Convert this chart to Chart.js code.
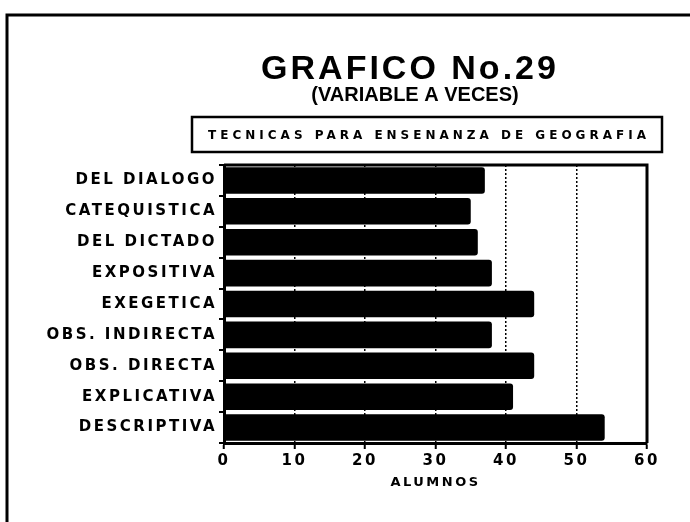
<!DOCTYPE html>
<html>
<head>
<meta charset="utf-8">
<title>Grafico No.29</title>
<script src="https://cdn.jsdelivr.net/npm/chart.js@4"></script>
<style>
  html, body { margin: 0; background: #fff; }
  #wrap { width: 690px; height: 522px; position: relative; }
</style>
</head>
<body>
<div id="wrap"><canvas id="grafico"></canvas></div>
<script>
// datos del grafico
const tecnicas = ['DEL DIALOGO', 'CATEQUISTICA', 'DEL DICTADO', 'EXPOSITIVA', 'EXEGETICA',
                  'OBS. INDIRECTA', 'OBS. DIRECTA', 'EXPLICATIVA', 'DESCRIPTIVA'];
const alumnos = [37, 35, 36, 38, 44, 38, 44, 41, 54];
const marcasX = [0, 10, 20, 30, 40, 50, 60];

const titulo = 'GRAFICO No.29';
const subtitulo = '(VARIABLE A VECES)';
const leyenda = 'TECNICAS PARA ENSENANZA DE GEOGRAFIA';
const ejeX = 'ALUMNOS';

const negrita = (size) => ({ family: 'DejaVu Sans', weight: 'bold', size: size });

// marco de la hoja, borde del area de barras y encabezados
const marco = {
  id: 'marco',
  beforeDraw(chart) {
    const { ctx } = chart;
    ctx.save();
    ctx.strokeStyle = '#000';
    ctx.lineWidth = 3;
    ctx.strokeRect(7, 15, 720, 560);
    ctx.restore();
    // letras algo separadas en los ejes
    ctx.letterSpacing = '2.5px';
  },
  afterDatasetsDraw(chart) {
    const { ctx, chartArea: a } = chart;
    ctx.save();
    ctx.strokeStyle = '#000';
    ctx.lineWidth = 3;
    ctx.beginPath();
    ctx.moveTo(a.left, a.top);
    ctx.lineTo(a.right, a.top);
    ctx.lineTo(a.right, a.bottom);
    ctx.stroke();
    ctx.restore();
  },
  afterDraw(chart) {
    const { ctx } = chart;
    ctx.save();
    ctx.fillStyle = '#000';
    ctx.strokeStyle = '#000';
    ctx.textAlign = 'center';
    ctx.textBaseline = 'alphabetic';

    ctx.letterSpacing = '3px';
    ctx.font = 'bold 34px "Liberation Sans"';
    ctx.fillText(titulo, 410, 79);

    ctx.letterSpacing = '0px';
    ctx.font = 'bold 20px "Liberation Sans"';
    ctx.fillText(subtitulo, 415, 101);

    ctx.lineWidth = 2.5;
    ctx.strokeRect(192, 117, 470, 35);
    ctx.letterSpacing = '4px';
    ctx.font = 'bold 12px "DejaVu Sans"';
    ctx.fillText(leyenda, 429, 139);
    ctx.restore();
    ctx.letterSpacing = '0px';
  }
};

new Chart(document.getElementById('grafico'), {
  type: 'bar',
  data: {
    labels: tecnicas,
    datasets: [{
      label: ejeX,
      data: alumnos,
      backgroundColor: '#000',
      barPercentage: 0.86,
      categoryPercentage: 1,
      borderRadius: 3,
      borderSkipped: 'start'
    }]
  },
  options: {
    indexAxis: 'y',
    responsive: true,
    maintainAspectRatio: false,
    animation: false,
    layout: { padding: { top: 165, right: 43, bottom: 21, left: 0 } },
    plugins: {
      legend: { display: false },
      tooltip: { enabled: false }
    },
    scales: {
      x: {
        type: 'linear',
        min: 0,
        max: 60,
        afterBuildTicks: (s) => { s.ticks = marcasX.map(v => ({ value: v })); },
        afterFit: (s) => { s.height = 58; },
        grid: { color: '#000', lineWidth: 1.5, tickLength: 6, tickColor: '#000', tickWidth: 2 },
        border: { color: '#000', width: 3, dash: [2, 2] },
        ticks: { color: '#000', font: negrita(15), padding: 3 },
        title: {
          display: true,
          text: ejeX,
          color: '#000',
          font: negrita(13),
          padding: { top: 0, bottom: 11 }
        }
      },
      y: {
        afterFit: (s) => { s.width = 224; },
        grid: { offset: true, drawOnChartArea: false, tickLength: 5, color: '#000', lineWidth: 2 },
        border: { color: '#000', width: 3 },
        ticks: { color: '#000', font: negrita(15), padding: 2, autoSkip: false }
      }
    }
  },
  plugins: [marco]
});
</script>
</body>
</html>
